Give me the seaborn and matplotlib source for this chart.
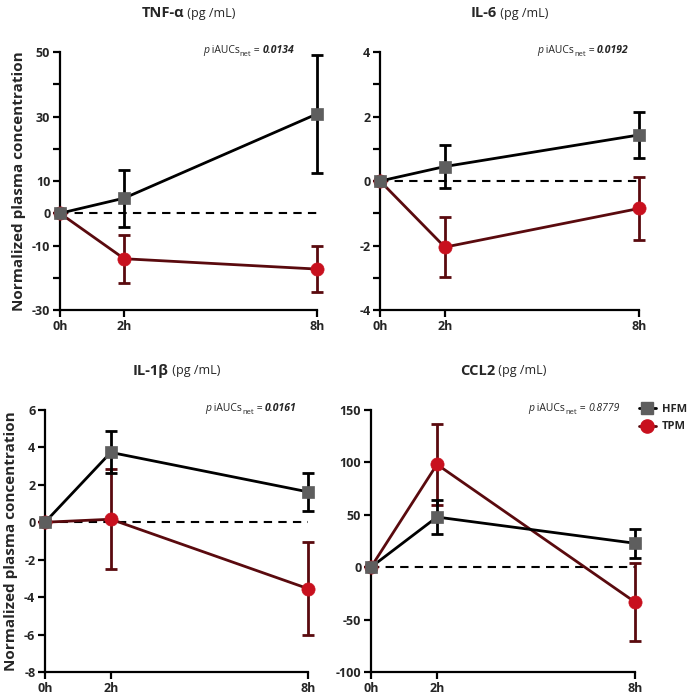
import numpy as np
import pandas as pd
import matplotlib
matplotlib.use("Agg")
import matplotlib.pyplot as plt
from matplotlib.lines import Line2D
import seaborn as sns

# Datos (valor medio y error) por citoquina
hours = [0, 2, 8]
hour_labels = ["0h", "2h", "8h"]

tnf_hfm = [0, 4.7, 30.8]
tnf_hfm_err = [0, 8.8, 18.2]
tnf_tpm = [0, -14.1, -17.3]
tnf_tpm_err = [0, 7.5, 7.2]

il6_hfm = [0, 0.45, 1.43]
il6_hfm_err = [0, 0.66, 0.71]
il6_tpm = [0, -2.05, -0.85]
il6_tpm_err = [0, 0.93, 0.99]

il1b_hfm = [0, 3.73, 1.62]
il1b_hfm_err = [0, 1.12, 1.03]
il1b_tpm = [0, 0.16, -3.55]
il1b_tpm_err = [0, 2.66, 2.47]

ccl2_hfm = [0, 47.8, 22.8]
ccl2_hfm_err = [0, 16.3, 13.9]
ccl2_tpm = [0, 98, -33.2]
ccl2_tpm_err = [0, 38.5, 37.5]

names = ["TNF-α", "IL-6", "IL-1β", "CCL2"]
p_values = ["0.0134", "0.0192", "0.0161", "0.8779"]
p_bold = [True, True, True, False]

sns.set_theme(style="ticks")
plt.rcParams["font.family"] = ["Open Sans", "DejaVu Sans"]
plt.rcParams["axes.unicode_minus"] = False

HFM_LINE, HFM_MARK = "black", "#5e5e5e"
TPM_LINE, TPM_MARK = "#5a0a0e", "#c8101e"

fig = plt.figure(figsize=(7.0, 6.99), dpi=100)
ax1 = fig.add_axes([0.0857, 0.5565, 0.367, 0.369])
ax2 = fig.add_axes([0.543, 0.5565, 0.370, 0.369])
ax3 = fig.add_axes([0.0643, 0.0386, 0.376, 0.375])
ax4 = fig.add_axes([0.530, 0.0386, 0.377, 0.375])

panels = [
    (ax1, tnf_hfm, tnf_hfm_err, tnf_tpm, tnf_tpm_err, (-30, 50), np.arange(-30, 51, 10),
     ["-30", "", "-10", "0", "10", "", "30", "", "50"], 0.556),
    (ax2, il6_hfm, il6_hfm_err, il6_tpm, il6_tpm_err, (-4, 4), np.arange(-4, 5, 1),
     ["-4", "", "-2", "", "0", "", "2", "", "4"], 0.606),
    (ax3, il1b_hfm, il1b_hfm_err, il1b_tpm, il1b_tpm_err, (-8, 6), np.arange(-8, 7, 2),
     None, 0.608),
    (ax4, ccl2_hfm, ccl2_hfm_err, ccl2_tpm, ccl2_tpm_err, (-100, 150), np.arange(-100, 151, 50),
     None, 0.595),
]


def chain(prev, s, **kw):
    # texto pegado a la derecha del anterior
    return prev.axes.annotate(s, xy=(1, 0), xycoords=prev, ha="left", va="bottom", **kw)


for i, (ax, hfm, hfm_err, tpm, tpm_err, ylim, yticks, ylabels, px) in enumerate(panels):
    # linea de referencia en 0
    ax.plot([0, 8], [0, 0], ls=(0, (4, 3)), color="black", lw=1.5, zorder=1)

    for vals, errs, lc, mc, mk in [(tpm, tpm_err, TPM_LINE, TPM_MARK, "o"),
                                   (hfm, hfm_err, HFM_LINE, HFM_MARK, "s")]:
        ax.errorbar(hours[1:], vals[1:], yerr=errs[1:], fmt="none", ecolor=lc,
                    elinewidth=2, capsize=4.5, capthick=2, zorder=3, clip_on=False)
        sns.lineplot(x=hours, y=vals, ax=ax, color=lc, lw=2, marker=mk,
                     markersize=9 if mk == "s" else 9.5, markerfacecolor=mc,
                     markeredgecolor=mc, markeredgewidth=0.5, zorder=4,
                     clip_on=False)

    ax.set_xlim(0, 8)
    ax.set_ylim(*ylim)
    ax.set_xticks(hours)
    ax.set_xticklabels(hour_labels)
    ax.set_yticks(yticks)
    if ylabels is not None:
        ax.set_yticklabels(ylabels)
    else:
        ax.set_yticklabels([str(v) for v in yticks])
    sns.despine(ax=ax)
    for s in ["left", "bottom"]:
        ax.spines[s].set_linewidth(1.6)
        ax.spines[s].set_color("black")
    ax.tick_params(width=1.6, length=5, color="black", labelsize=9, pad=2)
    for lab in ax.get_xticklabels() + ax.get_yticklabels():
        lab.set_fontweight("bold")
    ax.set_xlabel("")
    ax.set_ylabel("")

    # titulo: nombre en negrita + unidades
    t1 = ax.text(0.5, 1.15, names[i], transform=ax.transAxes, fontsize=10.5,
                 fontweight="bold", ha="right", va="center")
    t2 = ax.annotate(" (pg /mL)", xy=(1, 0.5), xycoords=t1, fontsize=9,
                     ha="left", va="center")

    # p valor
    a = ax.text(px, 0.985, "p", transform=ax.transAxes, fontsize=7.5,
                fontstyle="italic", ha="left", va="bottom")
    a = chain(a, " iAUCs", fontsize=7.5)
    a = ax.annotate("net", xy=(1, 0), xycoords=a, xytext=(0, -1.5),
                    textcoords="offset points", fontsize=5.5, ha="left", va="bottom")
    a = ax.annotate(" = ", xy=(1, 0), xycoords=a, xytext=(0, 1.5),
                    textcoords="offset points", fontsize=7.5, ha="left", va="bottom")
    chain(a, p_values[i], fontsize=7.5, fontstyle="italic",
          fontweight="bold" if p_bold[i] else "normal")
    ax._title_parts = (t1, t2)

for ax in [ax1, ax3]:
    ax.set_ylabel("Normalized plasma concentration", fontsize=11, fontweight="bold",
                  labelpad=4)

# centrar los titulos compuestos
fig.canvas.draw()
r = fig.canvas.get_renderer()
for ax in [ax1, ax2, ax3, ax4]:
    t1, t2 = ax._title_parts
    w1 = t1.get_window_extent(r).width
    w2 = t2.get_window_extent(r).width
    axw = ax.get_window_extent(r).width
    t1.set_x(0.5 + ((w1 - (w1 + w2) / 2) / axw))

handles = [
    Line2D([], [], color=HFM_LINE, lw=2, marker="s", markersize=9,
           markerfacecolor=HFM_MARK, markeredgecolor=HFM_MARK),
    Line2D([], [], color=TPM_LINE, lw=2, marker="o", markersize=9.5,
           markerfacecolor=TPM_MARK, markeredgecolor=TPM_MARK),
]
leg = fig.legend(handles, ["HFM", "TPM"], loc="upper left", bbox_to_anchor=(0.9, 0.435),
                 frameon=False, handlelength=1.5, handletextpad=0.6, labelspacing=0.6,
                 borderpad=0.3, prop={"weight": "bold", "size": 8})

fig.savefig("out.png", dpi=100)
